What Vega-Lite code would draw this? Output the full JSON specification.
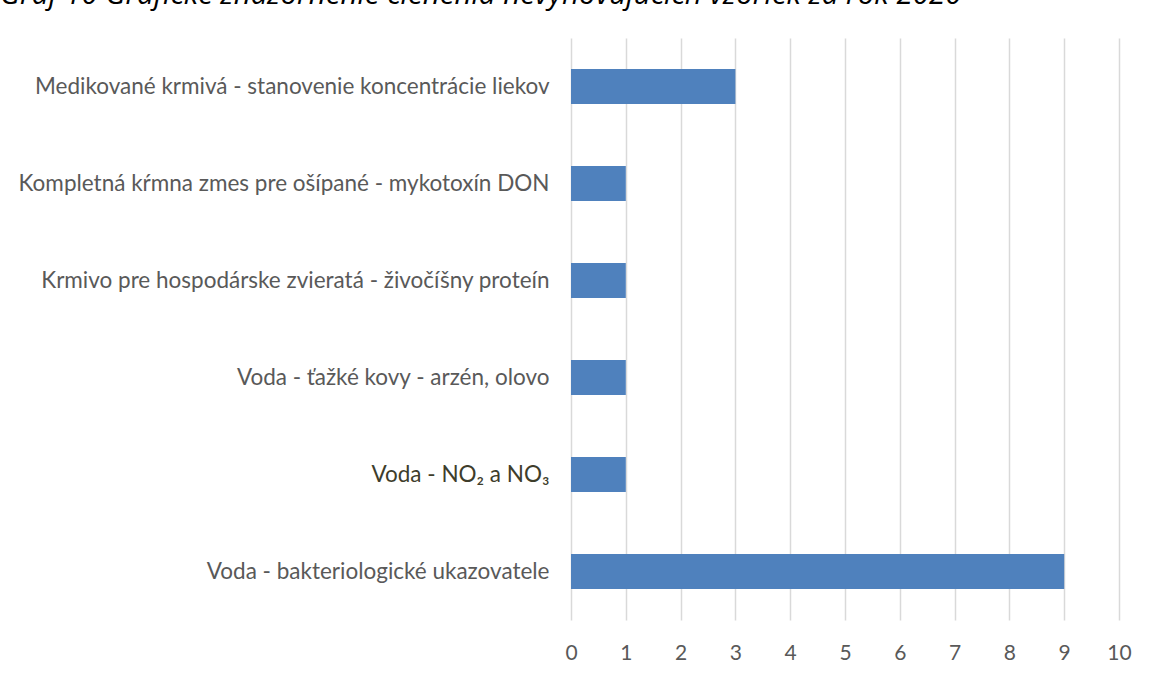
{
  "$schema": "https://vega.github.io/schema/vega-lite/v6.json",
  "autosize": {"type": "none"},
  "width": 548,
  "height": 582,
  "padding": {"left": 571, "top": 38, "right": 32, "bottom": 59},
  "background": "white",
  "title": {
    "text": "Graf 10 Grafické znázornenie členenia nevyhovujúcich vzoriek za rok 2020",
    "anchor": "start",
    "frame": "group",
    "dx": -571,
    "dy": -24,
    "font": "Open Sans",
    "fontStyle": "italic",
    "fontSize": 29.5,
    "fontWeight": "normal",
    "color": "#000000"
  },
  "data": {
    "values": [
      {"kategoria": "Medikované krmivá - stanovenie koncentrácie liekov", "pocet": 3},
      {"kategoria": "Kompletná kŕmna zmes pre ošípané - mykotoxín DON", "pocet": 1},
      {"kategoria": "Krmivo pre hospodárske zvieratá - živočíšny proteín", "pocet": 1},
      {"kategoria": "Voda - ťažké kovy - arzén, olovo", "pocet": 1},
      {"kategoria": "Voda - NO₂ a NO₃", "pocet": 1},
      {"kategoria": "Voda - bakteriologické ukazovatele", "pocet": 9}
    ]
  },
  "mark": {"type": "bar", "color": "#4F81BD"},
  "encoding": {
    "y": {
      "field": "kategoria",
      "type": "nominal",
      "sort": null,
      "title": null,
      "scale": {"paddingInner": 0.64, "paddingOuter": 0.32},
      "axis": {
        "domain": false,
        "ticks": false,
        "labelPadding": 22,
        "labelFont": "Lato",
        "labelFontSize": 22.5,
        "labelColor": {"condition": {"test": "indexof(datum.value, 'NO₂') >= 0", "value": "#3E3D2B"}, "value": "#595959"},
        "labelExpr": "indexof(datum.value, 'NO₂') >= 0 ? datum.value + '\u2003' : datum.value",
        "labelLimit": 600
      }
    },
    "x": {
      "field": "pocet",
      "type": "quantitative",
      "title": null,
      "scale": {"domain": [0, 10]},
      "axis": {
        "values": [0, 1, 2, 3, 4, 5, 6, 7, 8, 9, 10],
        "domain": false,
        "ticks": false,
        "grid": true,
        "gridColor": "#D9D9D9",
        "gridWidth": 1.5,
        "labelFlush": false,
        "labelPadding": 22,
        "labelFont": "Lato",
        "labelFontSize": 21,
        "labelColor": "#595959"
      }
    }
  },
  "config": {"view": {"stroke": null}}
}
